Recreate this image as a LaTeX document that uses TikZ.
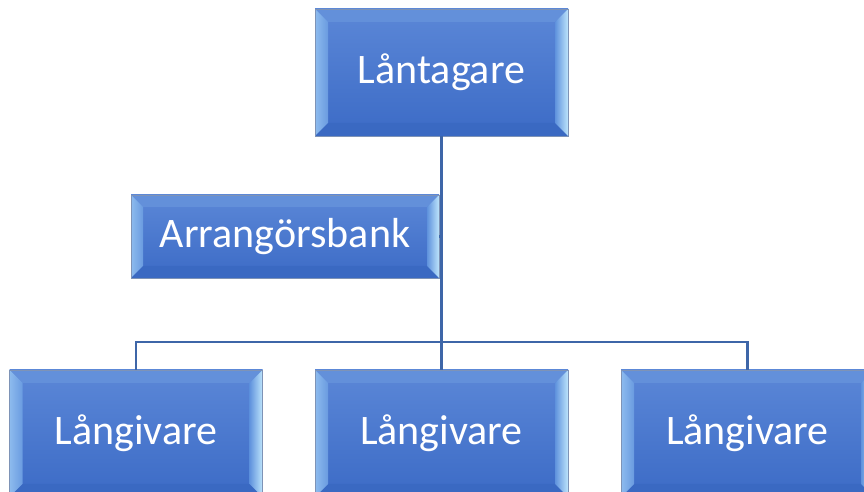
\documentclass[tikz,border=0pt]{standalone}
\usepackage{fontspec}
\newfontfamily\carlito{Carlito}
\definecolor{facetop}{HTML}{5B87D7}
\definecolor{facebot}{HTML}{3C6BC6}
\definecolor{bordercol}{HTML}{7E93B6}
\definecolor{bevLo}{HTML}{8DBBEE}
\definecolor{bevLi}{HTML}{6A9BE0}
\definecolor{bevRo}{HTML}{BDE4FB}
\definecolor{bevRi}{HTML}{5F92DD}
\definecolor{bevT}{HTML}{6390DA}
\definecolor{bevB}{HTML}{3A69C2}
\definecolor{linecol}{HTML}{3E66A8}
\tikzset{
  bev/.style={draw=bordercol, line width=0.8pt, top color=facetop, bottom color=facebot,
    text=white, font=\carlito\fontsize{42}{48}\selectfont, inner sep=0pt,
    path picture={
      \path (path picture bounding box.south west) coordinate (bsw)
            (path picture bounding box.north east) coordinate (bne);
      \fill[bevT] (bsw |- bne) -- (bne) -- ([shift={(-#1,-#1)}]bne) -- ([shift={(#1,-#1)}]bsw |- bne) -- cycle;
      \fill[bevB] (bsw) -- (bsw -| bne) -- ([shift={(-#1,#1)}]bsw -| bne) -- ([shift={(#1,#1)}]bsw) -- cycle;
      \shade[left color=bevLo, right color=bevLi] (bsw) -- (bsw |- bne) -- ([shift={(#1,-#1)}]bsw |- bne) -- ([shift={(#1,#1)}]bsw) -- cycle;
      \shade[left color=bevRi, right color=bevRo] (bne) -- (bsw -| bne) -- ([shift={(-#1,#1)}]bsw -| bne) -- ([shift={(-#1,-#1)}]bne) -- cycle;
    }},
  bev/.default=13pt,
  bigbox/.style={bev, minimum width=253pt, minimum height=127pt},
  conn/.style={draw=linecol, line width=2.4pt}
}
\begin{document}
\begin{tikzpicture}[x=1pt,y=1pt]
\useasboundingbox (0,0) rectangle (864,492);
\coordinate (busL) at (136,150);
\coordinate (busR) at (747.5,150);
\node[bigbox] (top) at (441.5,419.5) {Låntagare};
\node[bev=12pt, minimum width=308pt, minimum height=83pt] (arr) at (285,255.5) {Arrangörsbank};
\node[bigbox] (l1) at (136,58.5) {Långivare};
\node[bigbox] (l2) at (441.5,58.5) {Långivare};
\node[bigbox] (l3) at (747.5,58.5) {Långivare};
\path[conn] (top.south) -- (top.south |- busL);
\path[conn] (arr.east) -- (arr.east -| top.south);
\path[conn] (l1.north) -- (l1.north |- busL) -- (l3.north |- busL) -- (l3.north);
\path[conn] (l2.north) -- (l2.north |- busL);
\end{tikzpicture}
\end{document}
